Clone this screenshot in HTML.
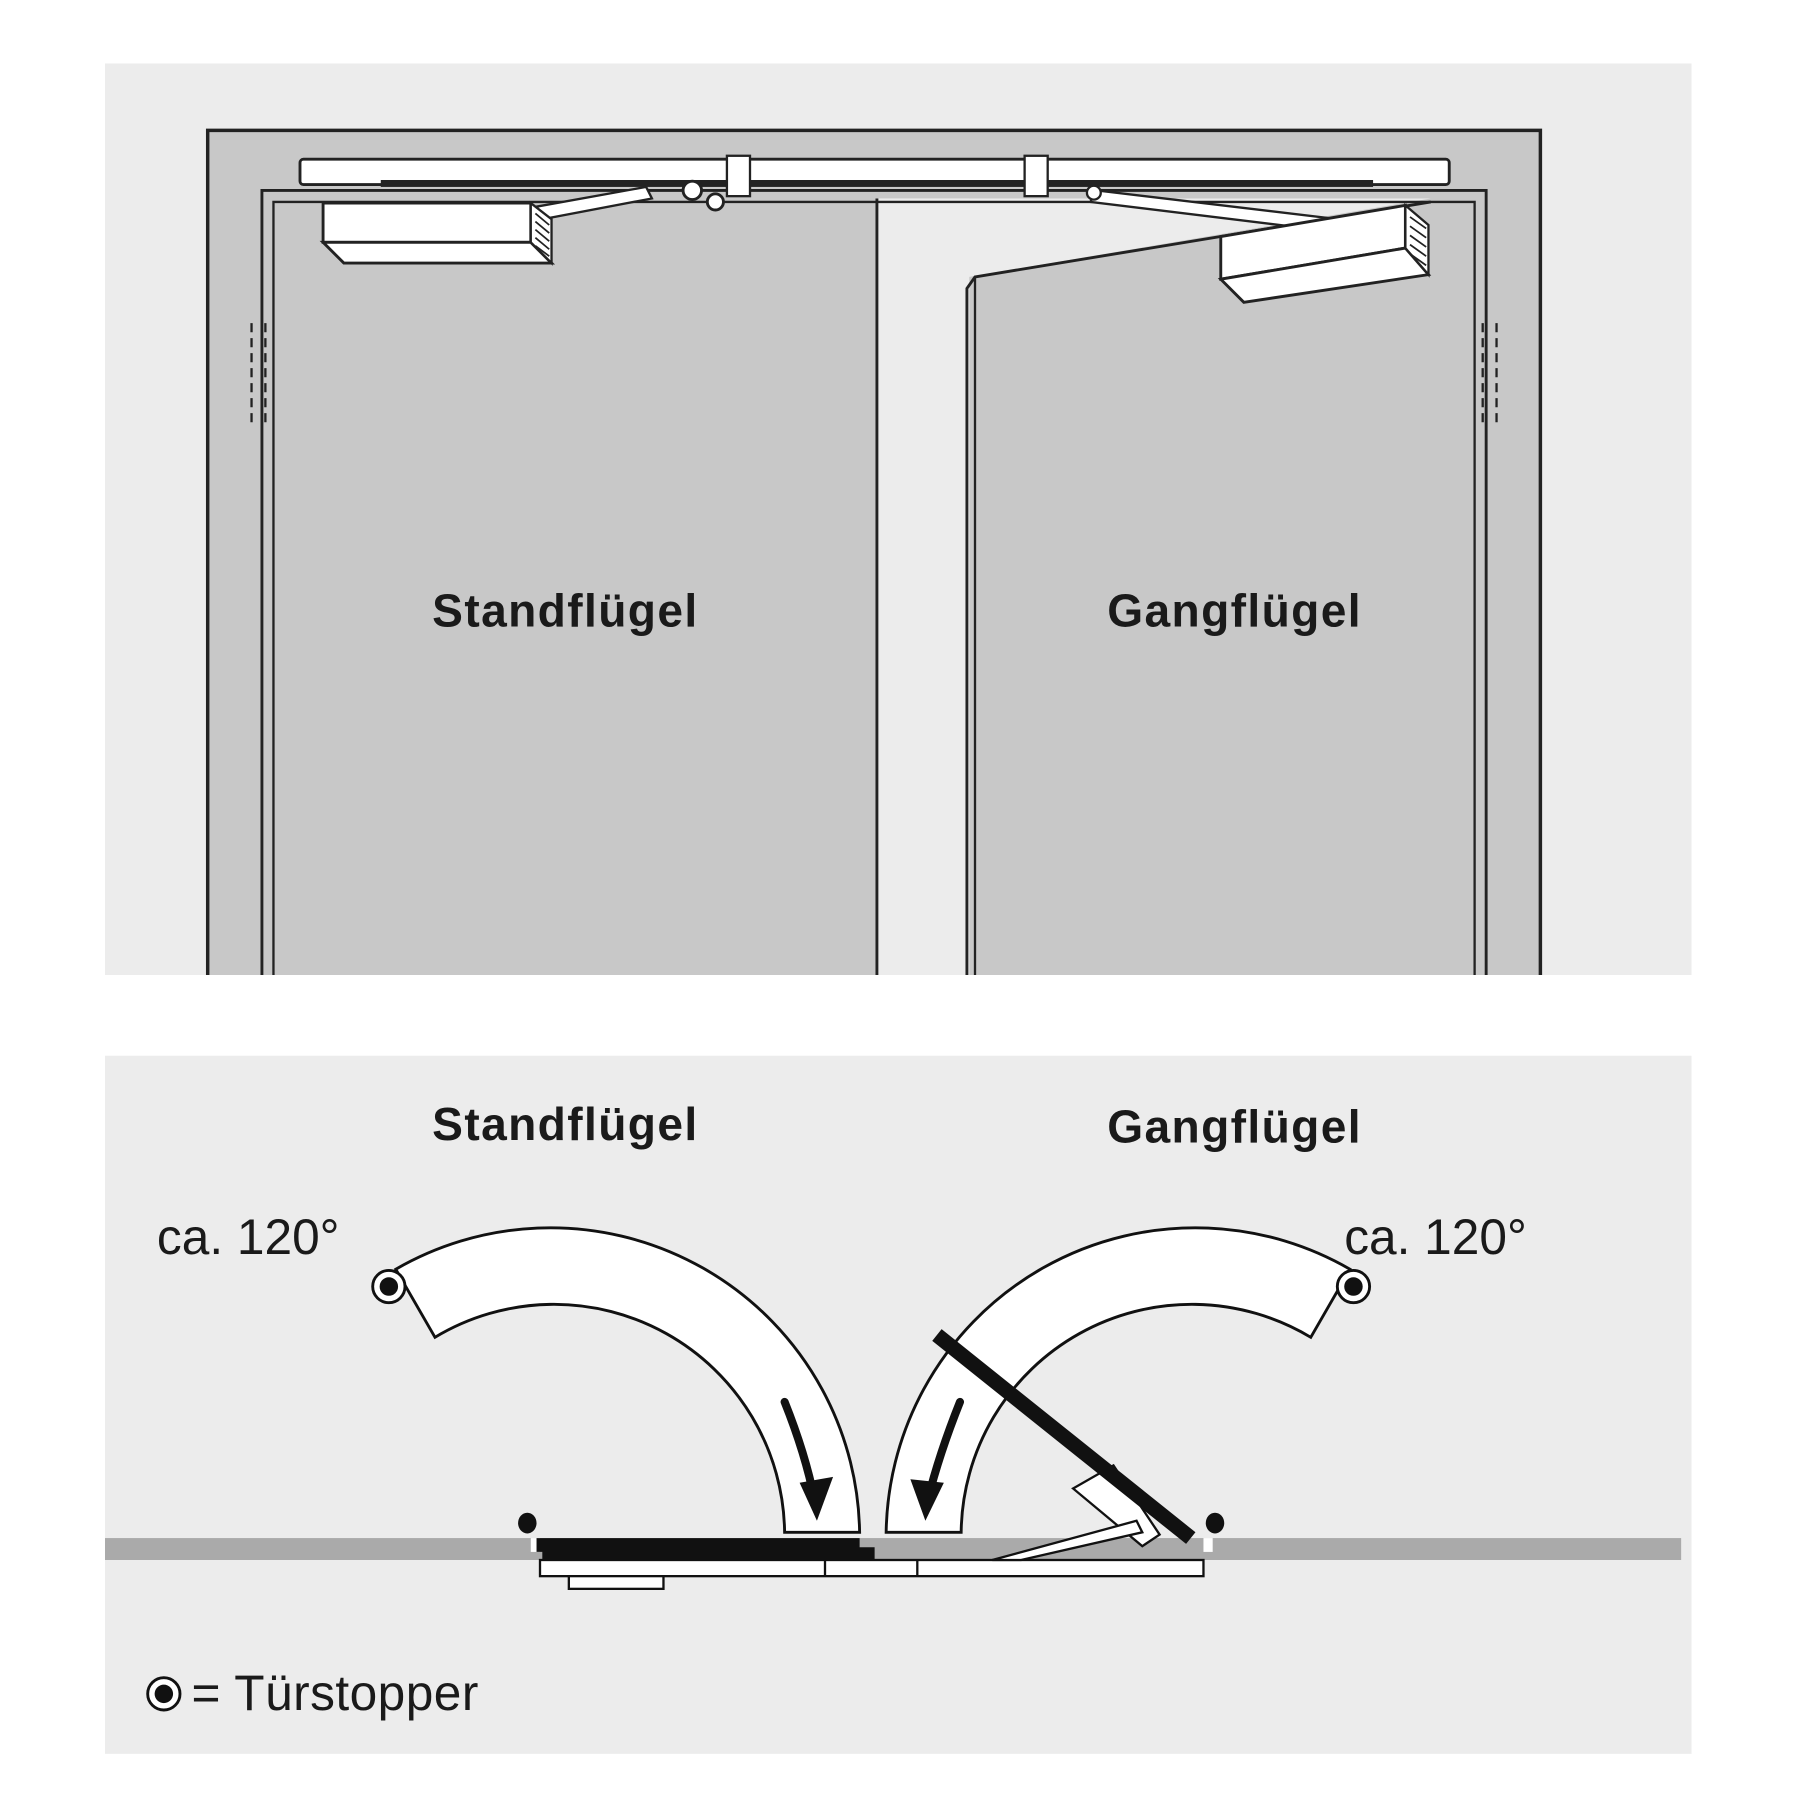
<!DOCTYPE html>
<html><head><meta charset="utf-8"><style>
html,body{margin:0;padding:0;background:#fff}
svg{display:block}
text{font-family:"Liberation Sans",sans-serif;fill:#1a1a1a}
</style></head><body>
<svg width="1800" height="1800" viewBox="0 0 1560 1560" xmlns="http://www.w3.org/2000/svg">
<rect width="1560" height="1560" fill="#fff"/>
<rect x="91" y="55" width="1375" height="790" fill="#ececec"/>
<rect x="180" y="113" width="1155" height="732" fill="#c8c8c8"/>
<polyline points="180,845 180,113 1335,113 1335,845" fill="none" stroke="#222" stroke-width="3"/>
<rect x="760" y="172" width="80" height="673" fill="#ececec"/>
<polygon points="840,240 1240,172 1278,172 1278,845 843,845" fill="#c8c8c8"/>
<polygon points="760,172 1240,172 840,240 840,845 760,845" fill="#ececec"/>
<line x1="760" y1="172" x2="760" y2="845" stroke="#222" stroke-width="2.5"/>
<polyline points="838,845 838,250 845,240 1240,175" fill="none" stroke="#222" stroke-width="2.5"/>
<line x1="845" y1="240" x2="845" y2="845" stroke="#222" stroke-width="2"/>
<polyline points="227,845 227,165 1288,165 1288,845" fill="none" stroke="#222" stroke-width="2.5"/>
<polyline points="237,845 237,175 1278,175 1278,845" fill="none" stroke="#222" stroke-width="2"/>
<g stroke="#222" stroke-width="2" fill="none" stroke-dasharray="8,5">
<line x1="218" y1="280" x2="218" y2="370"/><line x1="230" y1="280" x2="230" y2="370"/>
<line x1="1285" y1="280" x2="1285" y2="370"/><line x1="1297" y1="280" x2="1297" y2="370"/>
</g>
<rect x="260" y="138" width="996" height="22" rx="3" fill="#fff" stroke="#222" stroke-width="2.5"/>
<rect x="330" y="156" width="860" height="6" fill="#222"/>
<rect x="630" y="135" width="20" height="35" fill="#fff" stroke="#222" stroke-width="2"/>
<rect x="888" y="135" width="20" height="35" fill="#fff" stroke="#222" stroke-width="2"/>
<polygon points="460,180 560,162 565,172 470,190" fill="#fff" stroke="#222" stroke-width="2"/>
<polygon points="950,165 1160,190 1150,200 945,175" fill="#fff" stroke="#222" stroke-width="2"/>
<circle cx="600" cy="165" r="8" fill="#fff" stroke="#222" stroke-width="2.5"/>
<circle cx="620" cy="175" r="7" fill="#fff" stroke="#222" stroke-width="2.5"/>
<circle cx="948" cy="167" r="6" fill="#fff" stroke="#222" stroke-width="2"/>
<polygon points="280,176 460,176 460,210 280,210" fill="#fff" stroke="#222" stroke-width="2.5"/>
<polygon points="280,210 460,210 478,228 298,228" fill="#fff" stroke="#222" stroke-width="2.5"/>
<polygon points="460,176 478,190 478,228 460,210" fill="#fff" stroke="#222" stroke-width="2"/>
<g stroke="#222" stroke-width="1.5"><line x1="464" y1="185" x2="476" y2="195"/><line x1="464" y1="192" x2="476" y2="202"/><line x1="464" y1="199" x2="476" y2="209"/><line x1="464" y1="206" x2="476" y2="216"/><line x1="464" y1="213" x2="476" y2="222"/></g>
<polygon points="1058,205 1218,178 1218,215 1058,242" fill="#fff" stroke="#222" stroke-width="2.5"/>
<polygon points="1058,242 1218,215 1238,238 1078,262" fill="#fff" stroke="#222" stroke-width="2.5"/>
<polygon points="1218,178 1238,195 1238,238 1218,215" fill="#fff" stroke="#222" stroke-width="2"/>
<g stroke="#222" stroke-width="1.5"><line x1="1222" y1="188" x2="1236" y2="198"/><line x1="1222" y1="196" x2="1236" y2="206"/><line x1="1222" y1="204" x2="1236" y2="214"/><line x1="1222" y1="212" x2="1236" y2="222"/><line x1="1222" y1="220" x2="1236" y2="230"/></g>
<text x="490" y="543" font-size="40" font-weight="bold" text-anchor="middle" letter-spacing="1.2">Standflügel</text>
<text x="1070" y="543" font-size="40" font-weight="bold" text-anchor="middle" letter-spacing="1.2">Gangflügel</text>

<rect x="91" y="915" width="1375" height="605" fill="#ececec"/>
<text x="490" y="988" font-size="40" font-weight="bold" text-anchor="middle" letter-spacing="1.2">Standflügel</text>
<text x="1070" y="990" font-size="40" font-weight="bold" text-anchor="middle" letter-spacing="1.2">Gangflügel</text>
<text x="136" y="1087" font-size="43">ca. 120°</text>
<text x="1165" y="1087" font-size="43">ca. 120°</text>
<rect x="91" y="1333" width="1366" height="19" fill="#aaa"/>
<path d="M343,1100 A268,268 0 0 1 745,1328 L680,1328 A200,200 0 0 0 377,1159 Z" fill="#fff" stroke="#111" stroke-width="2.5"/>
<path d="M768,1328 A268,268 0 0 1 1170,1100 L1136,1159 A200,200 0 0 0 833,1328 Z" fill="#fff" stroke="#111" stroke-width="2.5"/>
<path d="M680,1215 Q698,1260 706,1300" fill="none" stroke="#111" stroke-width="7" stroke-linecap="round"/>
<polygon points="693,1285 722,1280 708,1318" fill="#111"/>
<path d="M832,1215 Q814,1260 804,1300" fill="none" stroke="#111" stroke-width="7" stroke-linecap="round"/>
<polygon points="789,1282 818,1285 802,1318" fill="#111"/>
<circle cx="337" cy="1115" r="14" fill="#fff" stroke="#111" stroke-width="2.5"/><circle cx="337" cy="1115" r="8" fill="#111"/>
<circle cx="1173" cy="1115" r="14" fill="#fff" stroke="#111" stroke-width="2.5"/><circle cx="1173" cy="1115" r="8" fill="#111"/>
<rect x="460" y="1333" width="8" height="12" fill="#fff"/>
<rect x="1043" y="1333" width="8" height="12" fill="#fff"/>
<rect x="468" y="1352" width="575" height="14" fill="#fff" stroke="#111" stroke-width="2"/>
<line x1="715" y1="1352" x2="715" y2="1366" stroke="#111" stroke-width="2"/>
<line x1="795" y1="1352" x2="795" y2="1366" stroke="#111" stroke-width="2"/>
<rect x="493" y="1366" width="82" height="11" fill="#fff" stroke="#111" stroke-width="2"/>
<polygon points="465,1333 745,1333 745,1341 758,1341 758,1352 470,1352 470,1345 465,1345" fill="#111"/>
<polygon points="930,1290 965,1270 1005,1330 990,1340" fill="#fff" stroke="#111" stroke-width="2"/>
<polygon points="860,1352 985,1318 990,1328 885,1352" fill="#fff" stroke="#111" stroke-width="2"/>
<line x1="812" y1="1157" x2="1032" y2="1333" stroke="#111" stroke-width="13"/>
<ellipse cx="457" cy="1320" rx="8" ry="9" fill="#111"/>
<ellipse cx="1053" cy="1320" rx="8" ry="9" fill="#111"/>
<circle cx="142" cy="1468" r="14" fill="#fff" stroke="#111" stroke-width="2.5"/><circle cx="142" cy="1468" r="8" fill="#111"/>
<text x="166" y="1482" font-size="43" letter-spacing="0.4">= Türstopper</text>
</svg>
</body></html>
